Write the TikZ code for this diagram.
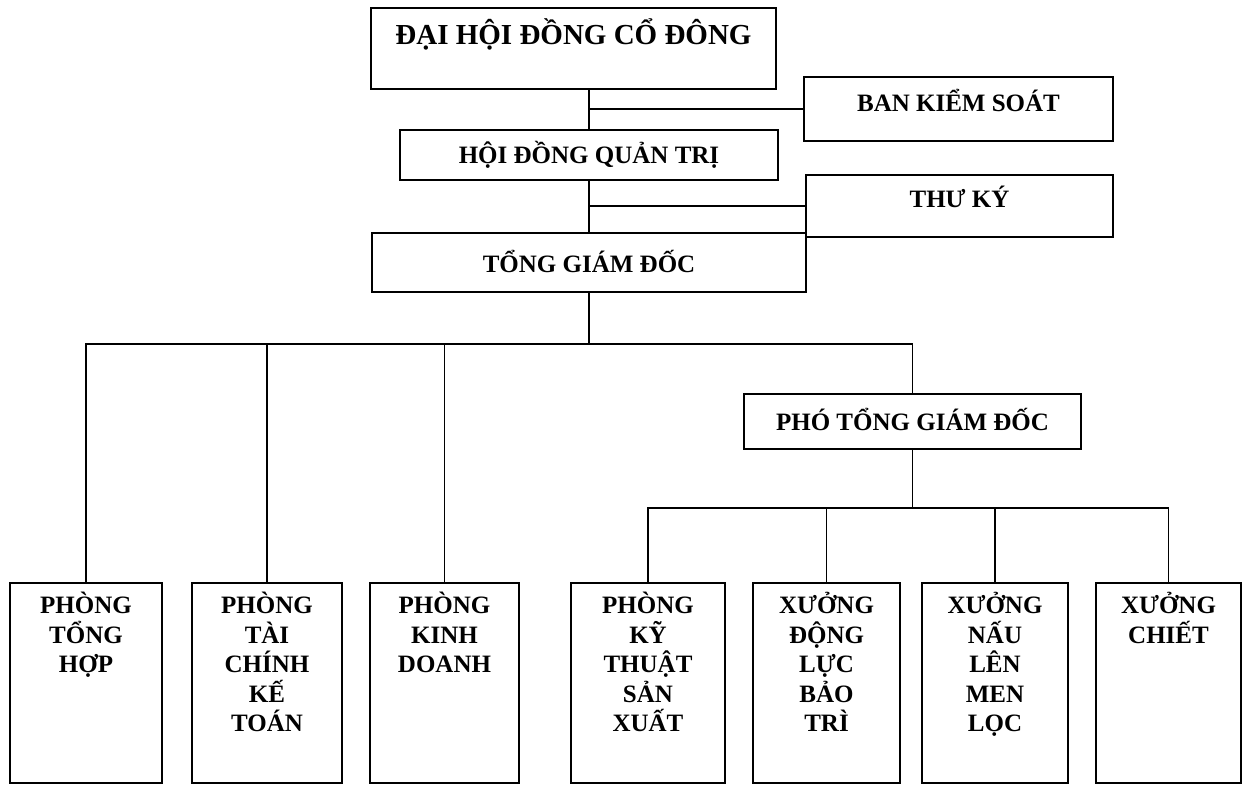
\documentclass[tikz,border=0pt]{standalone}
\usepackage{fontspec}
\setmainfont{Liberation Serif}
\usepackage{tikz}
\usetikzlibrary{positioning,calc}

\begin{document}
\begin{tikzpicture}[x=1pt,y=-1pt,
  box/.style={draw,line width=1.5pt,inner sep=0pt,font=\bfseries\fontsize{25}{29.5}\selectfont},
  lbl/.style={align=center,inner sep=0pt,font=\bfseries\fontsize{25}{29.5}\selectfont},
  conn/.style={line width=1.5pt}]
\useasboundingbox (0,0) rectangle (1243,786);

% top of the chart
\node[box,minimum width=405pt,minimum height=81pt,text height=20pt,text depth=27pt,font=\bfseries\fontsize{29}{34}\selectfont] (dhcd) at (573.5,48.5) {ĐẠI HỘI ĐỒNG CỔ ĐÔNG};
\node[box,minimum width=309pt,minimum height=64pt,text height=18pt,text depth=12pt] (bks) at (958.5,109) {BAN KIỂM SOÁT};
\node[box,minimum width=378pt,minimum height=50pt,text height=18pt,text depth=0pt] (hdqt) at (589,155) {HỘI ĐỒNG QUẢN TRỊ};
\node[box,minimum width=307pt,minimum height=62pt,text height=18pt,text depth=14pt] (tk) at (959.5,206) {THƯ KÝ};
\node[box,minimum width=434pt,minimum height=59pt,text height=21pt,text depth=0pt] (tgd) at (589,262.5) {TỔNG GIÁM ĐỐC};
\node[box,minimum width=337pt,minimum height=55pt,text height=17pt,text depth=0pt] (ptgd) at (912.5,421.5) {PHÓ TỔNG GIÁM ĐỐC};

% phong ban / xuong
\node[box,minimum width=152pt,minimum height=200pt] (b1) at (86,683) {};
\node[box,minimum width=150pt,minimum height=200pt] (b2) at (267,683) {};
\node[box,minimum width=149pt,minimum height=200pt] (b3) at (444.5,683) {};
\node[box,minimum width=154pt,minimum height=200pt] (b4) at (648,683) {};
\node[box,minimum width=147pt,minimum height=200pt] (b5) at (826.5,683) {};
\node[box,minimum width=146pt,minimum height=200pt] (b6) at (995,683) {};
\node[box,minimum width=145pt,minimum height=200pt] (b7) at (1168.5,683) {};

\node[lbl,below=10pt of b1.north] (t1) {PHÒNG\\TỔNG\\HỢP};
\node[lbl,below=10pt of b2.north] (t2) {PHÒNG\\TÀI\\CHÍNH\\KẾ\\TOÁN};
\node[lbl,below=10pt of b3.north] (t3) {PHÒNG\\KINH\\DOANH};
\node[lbl,below=10pt of b4.north] (t4) {PHÒNG\\KỸ\\THUẬT\\SẢN\\XUẤT};
\node[lbl,below=10pt of b5.north] (t5) {XƯỞNG\\ĐỘNG\\LỰC\\BẢO\\TRÌ};
\node[lbl,below=10pt of b6.north] (t6) {XƯỞNG\\NẤU\\LÊN\\MEN\\LỌC};
\node[lbl,below=10pt of b7.north] (t7) {XƯỞNG\\CHIẾT};

\coordinate (bus1) at (589,344);
\coordinate (bus2) at (912.5,508);

% duong noi
\draw[conn] (dhcd.south -| hdqt.north) -- (hdqt.north);
\draw[conn] (hdqt.south) -- (tgd.north);
\draw[conn] (bks.west -| tgd.north) -- (bks.west);
\draw[conn] (tk.west -| tgd.north) -- (tk.west);
\draw[conn] (tgd.south) -- (tgd.south |- bus1);
\draw[conn] (b1.north) |- (ptgd.north |- bus1) -- (ptgd.north);
\foreach \b in {b2,b3}
  \draw[conn] (\b.north) -- (\b.north |- bus1);
\draw[conn] (ptgd.south) -- (ptgd.south |- bus2);
\draw[conn] (b4.north) |- (b7.north |- bus2) -- (b7.north);
\foreach \b in {b5,b6}
  \draw[conn] (\b.north) -- (\b.north |- bus2);
\end{tikzpicture}
\end{document}
